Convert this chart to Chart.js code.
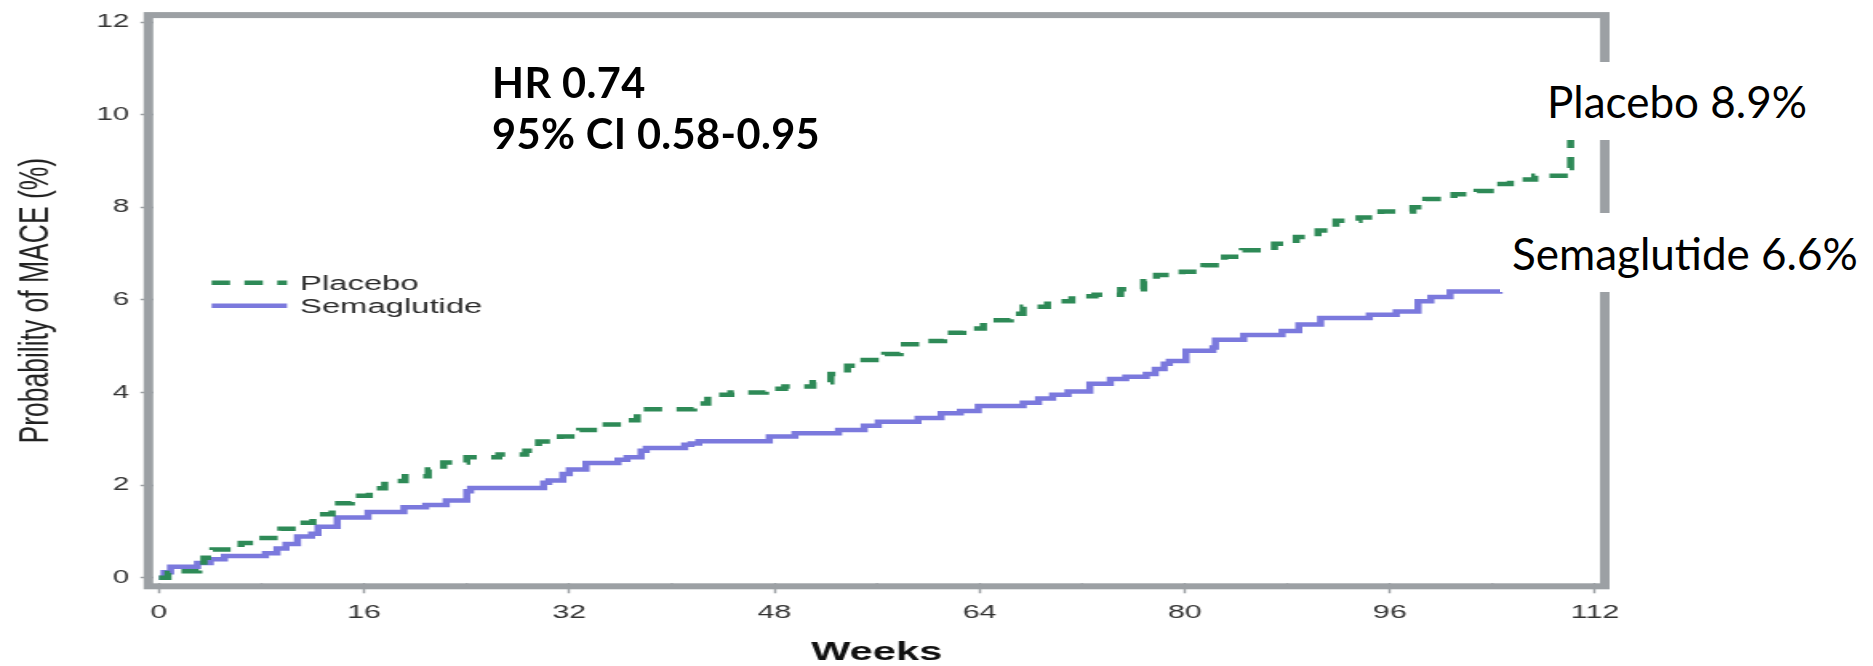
<!DOCTYPE html>
<html>
<head>
<meta charset="utf-8">
<title>Probability of MACE - Semaglutide vs Placebo</title>
<script src="https://cdn.jsdelivr.net/npm/chart.js@4.4.1/dist/chart.umd.min.js"></script>
<style>
  html, body { margin: 0; padding: 0; background: #fff; overflow: hidden; }
  body { position: relative; width: 1873px; height: 666px; }
  /* the source graphic is stretched sideways, so draw narrow and widen it */
  #wrap { position: absolute; left: 0; top: 0; width: 1171px; height: 666px; transform: scaleX(1.6); transform-origin: 0 0; }
  .note { position: absolute; font-family: Lato, "Open Sans", sans-serif; color: #000; white-space: nowrap; }
  #hr { left: 492px; top: 57px; font-size: 41.5px; font-weight: bold; line-height: 51px; letter-spacing: 0.4px; }
  .tag { background: #fff; display: flex; align-items: center; font-size: 44px; box-sizing: border-box; }
  #tagPlacebo { left: 1538px; top: 62px; width: 300px; height: 78px; padding-left: 9px; }
  #tagSema { left: 1500px; top: 213px; width: 373px; height: 79px; padding-left: 12px; }
</style>
</head>
<body>
<div id="wrap"><canvas id="mace"></canvas></div>
<div class="note" id="hr">HR 0.74<br>95% CI 0.58-0.95</div>
<div class="note tag" id="tagPlacebo">Placebo 8.9%</div>
<div class="note tag" id="tagSema">Semaglutide 6.6%</div>

<script>
// Kaplan-Meier steps (weeks, cumulative %)
const placeboWeeks = [0, 0.7, 1.5, 3.1, 3.5, 4.2, 6.4, 7.8, 9.5, 11.0, 12.0, 13.5, 15.0, 16.4, 17.6, 19.2, 21.0, 22.2, 24.0, 26.5,
  28.6, 29.6, 31.3, 32.8, 34.3, 36.2, 37.3, 41.7, 42.8, 44.6, 47.3, 48.8, 51.0, 52.4, 53.7, 54.7, 56.6, 57.8, 59.4, 61.2,
  62.7, 64.3, 66.4, 67.4, 69.3, 71.2, 73.0, 75.0, 76.8, 77.8, 79.8, 81.5, 83.1, 84.5, 87.0, 88.7, 90.4, 91.8, 93.6, 95.3,
  97.8, 98.8, 101.0, 102.8, 104.2, 105.4, 107.3, 109.6, 110.1, 111.3];
const placeboRisk = [0, 0.1, 0.14, 0.17, 0.43, 0.61, 0.75, 0.86, 1.06, 1.19, 1.37, 1.61, 1.77, 1.93, 2.09, 2.19, 2.34, 2.49, 2.6, 2.66,
  2.74, 2.94, 3.05, 3.19, 3.31, 3.4, 3.64, 3.76, 3.95, 4.0, 4.08, 4.13, 4.22, 4.4, 4.58, 4.7, 4.83, 5.04, 5.11, 5.29,
  5.38, 5.56, 5.7, 5.85, 5.97, 6.08, 6.11, 6.23, 6.4, 6.54, 6.61, 6.75, 6.93, 7.07, 7.21, 7.36, 7.5, 7.71, 7.78, 7.91,
  8.0, 8.18, 8.28, 8.35, 8.5, 8.6, 8.68, 8.85, 9.5, 9.5];

const semaWeeks = [0, 0.4, 0.9, 3.0, 4.0, 5.1, 8.3, 9.2, 9.9, 10.8, 11.9, 12.4, 13.9, 16.3, 19.1, 20.8, 22.4, 24.0, 24.3, 30.0,
  30.4, 31.5, 32.0, 33.3, 35.8, 36.5, 37.6, 38.0, 41.0, 41.5, 42.1, 47.6, 49.6, 53.0, 55.0, 56.1, 59.2, 61.0, 62.5, 63.9,
  67.4, 68.6, 69.7, 70.9, 72.6, 74.2, 75.4, 77.0, 77.7, 78.4, 78.8, 80.1, 82.2, 82.4, 84.6, 87.6, 88.9, 90.6, 94.4, 96.5,
  98.2, 99.2, 100.7, 104.8];
const semaRisk = [0, 0.12, 0.24, 0.32, 0.4, 0.47, 0.53, 0.63, 0.73, 0.89, 0.95, 1.1, 1.3, 1.42, 1.52, 1.57, 1.67, 1.87, 1.94, 2.05,
  2.1, 2.24, 2.34, 2.48, 2.55, 2.6, 2.74, 2.8, 2.87, 2.9, 2.95, 3.05, 3.12, 3.19, 3.28, 3.37, 3.45, 3.55, 3.6, 3.71,
  3.78, 3.87, 3.95, 4.02, 4.19, 4.29, 4.34, 4.4, 4.51, 4.62, 4.68, 4.9, 4.97, 5.14, 5.24, 5.33, 5.47, 5.61, 5.68, 5.75,
  5.97, 6.06, 6.18, 6.18];

const seriesNames = ["Placebo", "Semaglutide"];
const seriesColors = ["#2e8a57", "#7b79dd"];

const weekTicks = [0, 16, 32, 48, 64, 80, 96, 112];
const minorWeekTicks = [8, 24, 40, 56, 72, 88, 104];
const riskTicks = [0, 2, 4, 6, 8, 10, 12];

const frameColor = "#9ca0a4";

const toPoints = (weeks, risk) => weeks.map((w, i) => ({ x: w, y: risk[i] }));

// frame, short minor ticks and the in-plot legend
const framePlugin = {
  id: "frame",
  afterDatasetsDraw(chart) {
    const { ctx, chartArea: a, scales } = chart;
    ctx.save();
    ctx.strokeStyle = frameColor;
    ctx.lineWidth = 1.5;
    minorWeekTicks.forEach((w) => {
      const px = scales.x.getPixelForValue(w);
      ctx.beginPath();
      ctx.moveTo(px, a.bottom);
      ctx.lineTo(px, a.bottom + 5.5);
      ctx.stroke();
    });
    ctx.lineWidth = 6;
    ctx.strokeRect(a.left - 3, a.top - 3, a.right - a.left + 6, a.bottom - a.top + 6);

    chart.data.datasets.forEach((ds, i) => {
      const y = 282.7 + i * 23;
      ctx.setLineDash(ds.borderDash || []);
      ctx.strokeStyle = ds.borderColor;
      ctx.lineWidth = ds.borderWidth;
      ctx.beginPath();
      ctx.moveTo(132.3, y);
      ctx.lineTo(179.4, y);
      ctx.stroke();
      ctx.setLineDash([]);
      ctx.fillStyle = "#2b2b2b";
      ctx.font = '20.5px "Liberation Sans", Arial, sans-serif';
      ctx.textBaseline = "middle";
      ctx.fillText(ds.label, 187.5, y + 1.5);
    });
    ctx.restore();
  },
};

Chart.defaults.font.family = '"Liberation Sans", Arial, sans-serif';

new Chart(document.getElementById("mace"), {
  type: "line",
  data: {
    datasets: [
      {
        label: seriesNames[0],
        data: toPoints(placeboWeeks, placeboRisk),
        borderColor: seriesColors[0],
        borderWidth: 4.5,
        borderDash: [11.5, 9],
        stepped: true,
        pointRadius: 0,
        fill: false,
      },
      {
        label: seriesNames[1],
        data: toPoints(semaWeeks, semaRisk),
        borderColor: seriesColors[1],
        borderWidth: 4.5,
        stepped: true,
        pointRadius: 0,
        fill: false,
      },
    ],
  },
  options: {
    responsive: true,
    maintainAspectRatio: false,
    animation: false,
    events: [],
    layout: { padding: { left: 0, right: 171, top: 12, bottom: 0 } },
    plugins: { legend: { display: false }, tooltip: { enabled: false } },
    scales: {
      x: {
        type: "linear",
        min: -0.45,
        max: 112.39,
        afterBuildTicks: (s) => { s.ticks = weekTicks.map((v) => ({ value: v })); },
        afterFit: (s) => { s.height = 82.7; },
        border: { display: false },
        grid: { drawOnChartArea: false, drawTicks: true, tickLength: 10, tickColor: frameColor, tickWidth: 1.5 },
        ticks: { color: "#333", font: { size: 19 }, padding: 8, maxRotation: 0 },
        title: { display: true, text: "Weeks", color: "#111", font: { size: 26, weight: "bold" }, padding: { top: 0, bottom: -2 } },
      },
      y: {
        min: -0.12,
        max: 12.085,
        afterBuildTicks: (s) => { s.ticks = riskTicks.map((v) => ({ value: v })); },
        afterFit: (s) => { s.width = 95.8; },
        border: { display: false },
        grid: { drawOnChartArea: false, drawTicks: true, tickLength: 8, tickColor: frameColor, tickWidth: 1.5 },
        ticks: { color: "#333", font: { size: 18.5 }, padding: 7 },
        title: { display: true, text: "Probability of MACE (%)", color: "#222", font: { size: 26.5 }, padding: { top: 7, bottom: 0 } },
      },
    },
  },
  plugins: [framePlugin],
});
</script>
</body>
</html>
